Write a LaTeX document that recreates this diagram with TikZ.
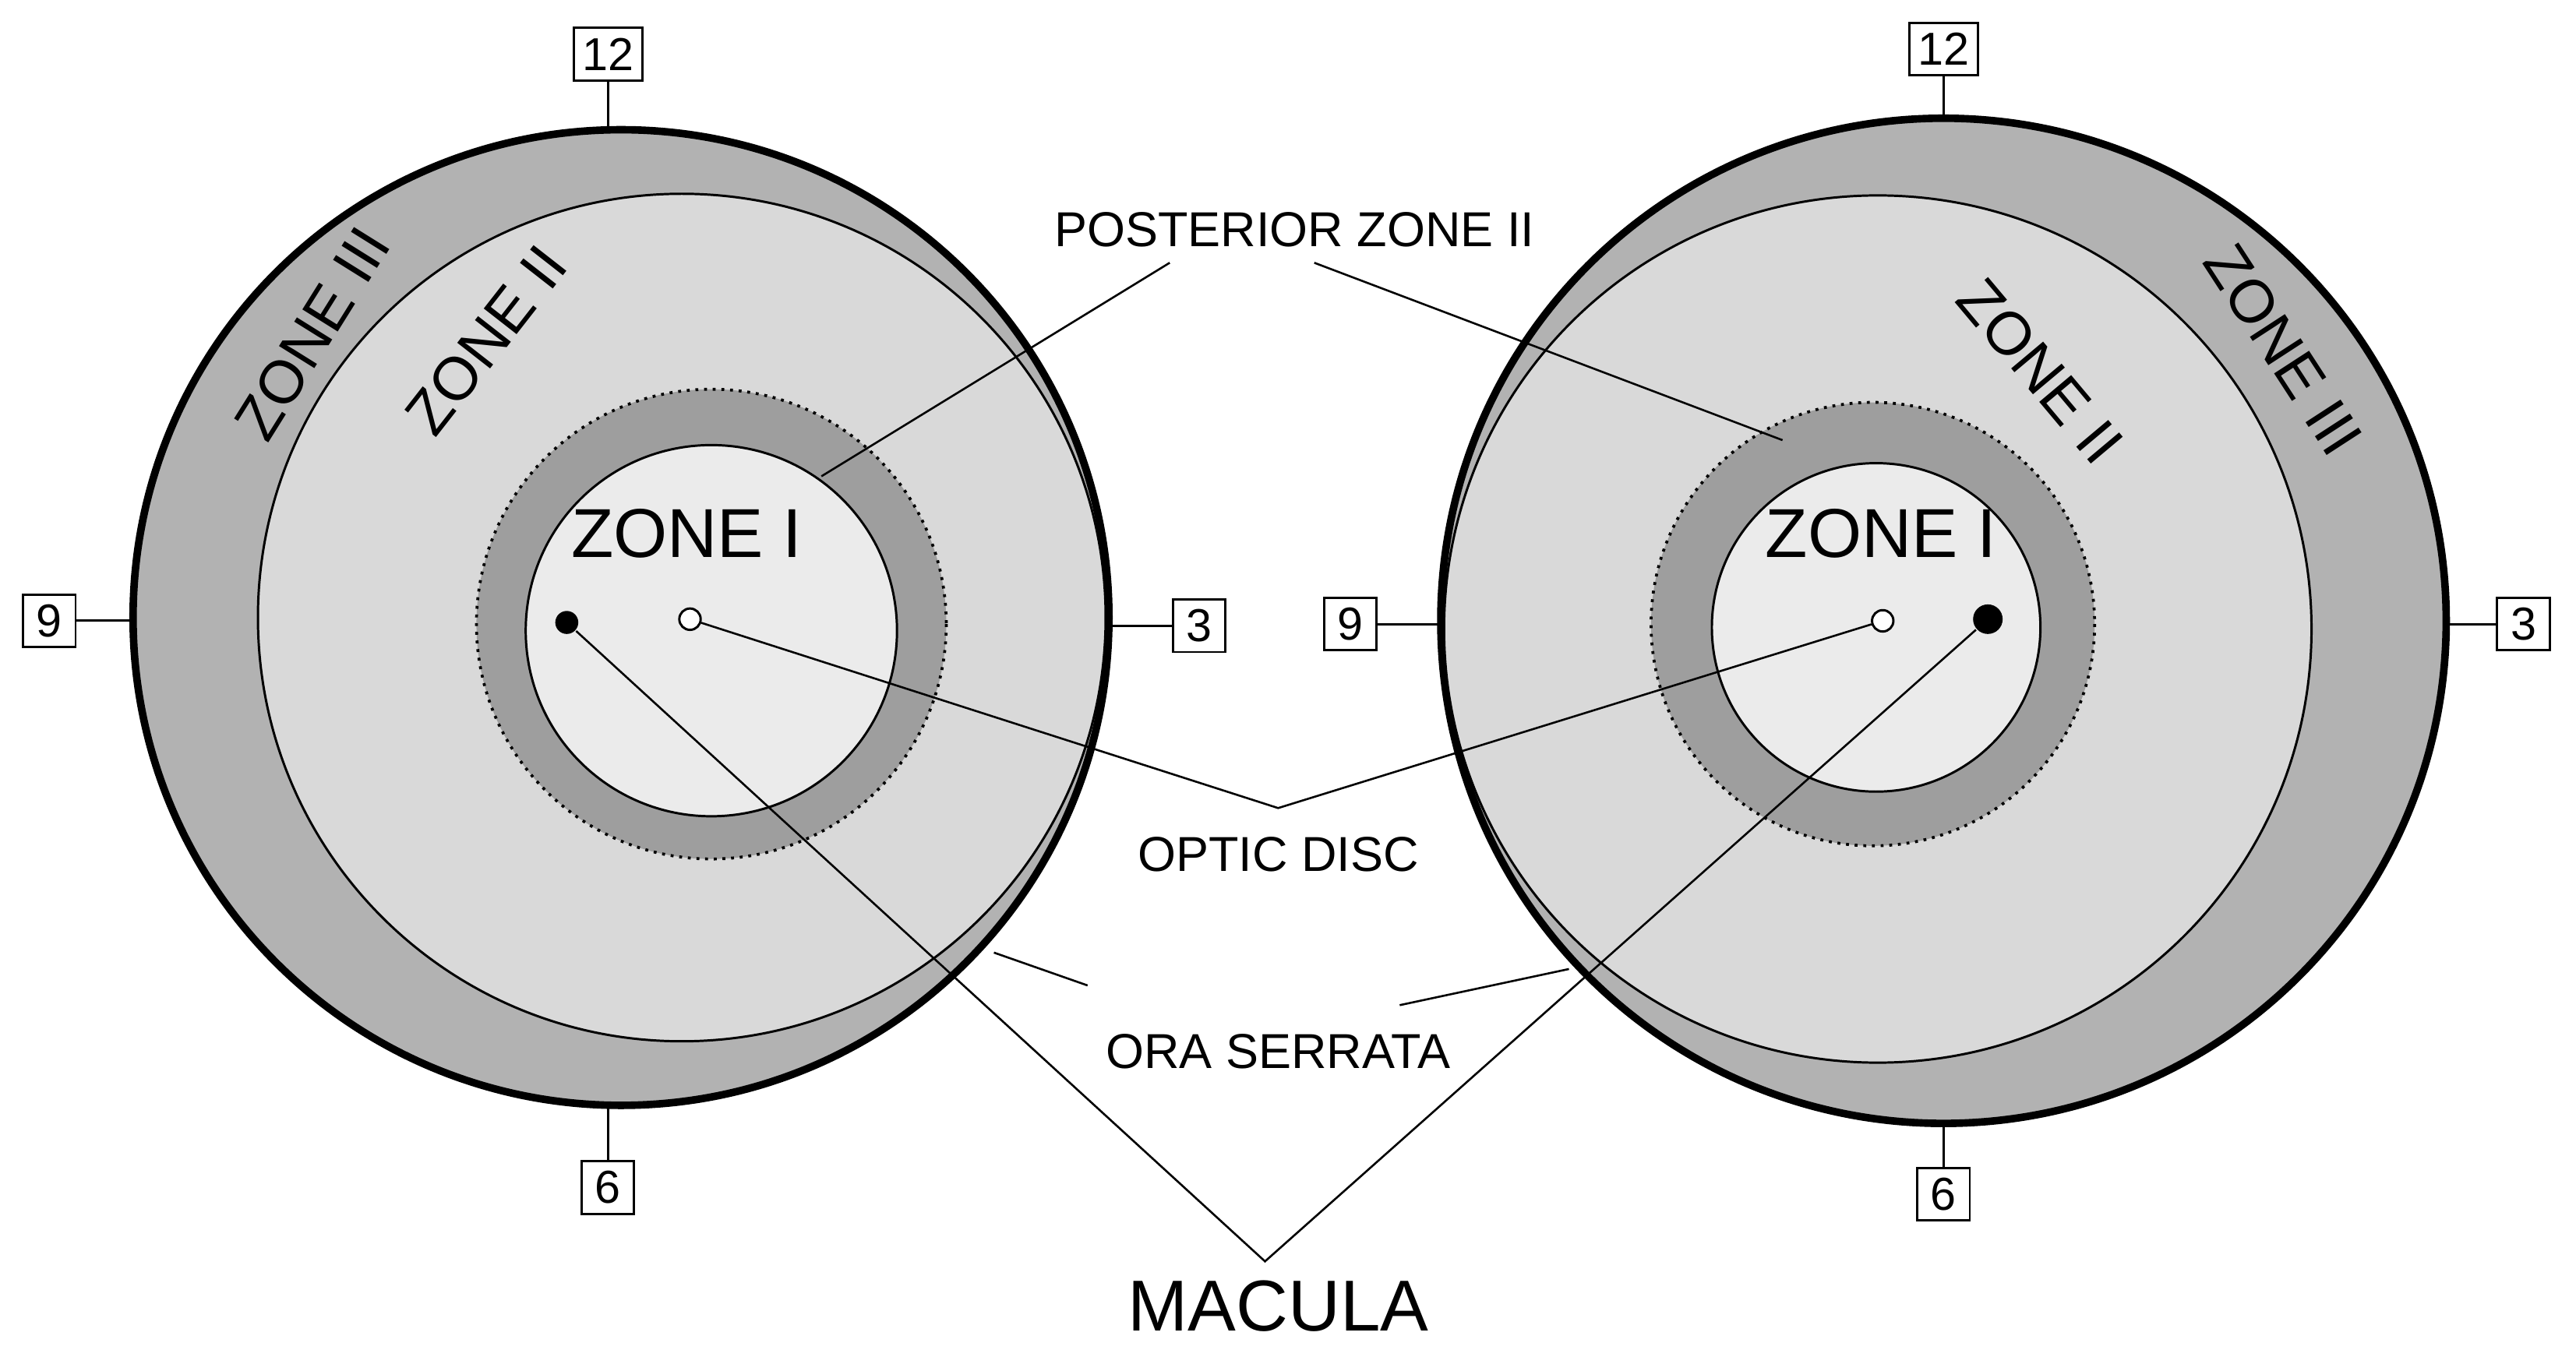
\documentclass[tikz,border=0pt]{standalone}
\usepackage{fontspec}
\setmainfont{Liberation Sans}
\begin{document}
\begin{tikzpicture}[x=0.1mm,y=-0.1mm,
  box/.style={draw,thin,fill=white,inner sep=1.5pt,font=\fontsize{8}{8}\selectfont,minimum width=3.2mm,minimum height=3.2mm},
  lbl/.style={font=\fontsize{8.5}{9}\selectfont},
  zone/.style={font=\fontsize{10.5}{11}\selectfont},
  lead/.style={line width=0.35pt}]
\useasboundingbox (0,0) rectangle (1568,826);
% left eye
\fill[gray!60!white,draw=black,line width=1.3pt] (378,376) circle (297);
\fill[black!15,draw=black,line width=0.4pt] (415,376) circle (258);
\fill[black!38] (433,380) circle (143);
\draw[densely dotted,line width=0.5pt] (433,380) circle (143);
\fill[black!8,draw=black,line width=0.4pt] (433,384) circle (113);
% right eye
\fill[gray!60!white,draw=black,line width=1.3pt] (1183,378) circle (306);
\fill[black!15,draw=black,line width=0.4pt] (1143,383) circle (264);
\fill[black!38] (1140,380) circle (135);
\draw[densely dotted,line width=0.5pt] (1140,380) circle (135);
\fill[black!8,draw=black,line width=0.4pt] (1142,382) circle (100);
% clock ticks
\node[box] (l12) at (370,33) {12};
\node[box] (l9) at (30,378) {9};
\node[box] (l3) at (730,381) {3};
\node[box] (l6) at (370,723) {6};
\draw (l12.south) -- (370,79); \draw (l9.east) -- (82,378);
\draw (l3.west) -- (675,381); \draw (l6.north) -- (370,672);
\node[box] (r12) at (1183,30) {12};
\node[box] (r9) at (822,380) {9};
\node[box] (r3) at (1536,380) {3};
\node[box] (r6) at (1183,727) {6};
\draw (r12.south) -- (1183,72); \draw (r9.east) -- (877,380);
\draw (r3.west) -- (1489,380); \draw (r6.north) -- (1183,684);
% zone labels
\node[zone,rotate=58] at (190,203) {ZONE III};
\node[zone,rotate=52] at (296,207) {ZONE II};
\node[zone,rotate=-57] at (1390,213) {ZONE III};
\node[zone,rotate=-50] at (1242,226) {ZONE II};
\node[font=\fontsize{12}{13}\selectfont] at (418,325) {ZONE I};
\node[font=\fontsize{12}{13}\selectfont] at (1145,325) {ZONE I};
% points
\node[circle,fill=black,inner sep=0pt,minimum size=1.4mm] (lm) at (345,379) {};
\node[circle,draw,fill=white,inner sep=0pt,minimum size=1.3mm] (lo) at (420,377) {};
\node[circle,draw,fill=white,inner sep=0pt,minimum size=1.3mm] (ro) at (1146,378) {};
\node[circle,fill=black,inner sep=0pt,minimum size=1.8mm] (rm) at (1210,377) {};
% labels
\node[lbl] (pz) at (788,140) {POSTERIOR ZONE II};
\node[lbl] (od) at (778,520) {OPTIC DISC};
\node[lbl] (os) at (778,640) {ORA SERRATA};
\node[font=\fontsize{12.5}{13}\selectfont] (mac) at (778,795) {MACULA};
\coordinate (pzl) at (712,160); \coordinate (pzr) at (800,160);
\coordinate (odp) at (778,492);
\coordinate (osl) at (605,580); \coordinate (osr) at (955,590);
\coordinate (mp) at (770,768);
\draw[lead] (pzl) -- (500,290);
\draw[lead] (pzr) -- (1085,268);
\draw[lead] (lo) -- (odp) -- (ro);
\draw[lead] (osl) -- (662,600);
\draw[lead] (osr) -- (852,612);
\draw[lead] (lm) -- (mp) -- (rm);
\end{tikzpicture}
\end{document}
